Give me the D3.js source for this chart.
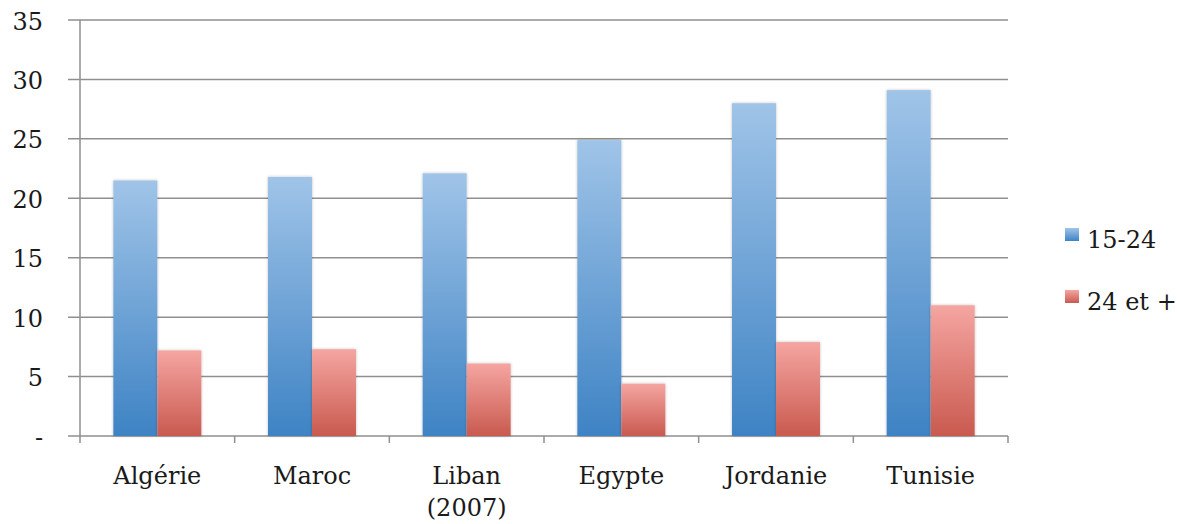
<!DOCTYPE html>
<html>
<head>
<meta charset="utf-8">
<script src="https://cdn.jsdelivr.net/npm/d3@7/dist/d3.min.js"></script>
<style>
  html, body { margin: 0; padding: 0; background: #fff; }
  svg text { font-family: "DejaVu Serif", serif; fill: #1a1a1a; }
</style>
</head>
<body>
<svg id="chart" width="1177" height="524"></svg>
<script>
// Pays (Liban : données 2007)
const categories = ["Algérie", "Maroc", "Liban\n(2007)", "Egypte", "Jordanie", "Tunisie"];
const seriesNames = ["15-24", "24 et +"];
const values1524 = [21.5, 21.8, 22.1, 24.9, 28.0, 29.1];
const values24plus = [7.2, 7.3, 6.1, 4.4, 7.9, 11.0];
const yTicks = [0, 5, 10, 15, 20, 25, 30, 35];
const yTickLabels = ["-", "5", "10", "15", "20", "25", "30", "35"];

const seriesValues = [values1524, values24plus];

const svg = d3.select("#chart");
const plotLeft = 80, plotRight = 1008, plotTop = 20, plotBottom = 436;

const y = d3.scaleLinear().domain([0, 35]).range([plotBottom, plotTop]);
const x0 = d3.scaleBand().domain(categories).range([plotLeft, plotRight]).padding(0);
const x1 = d3.scaleBand().domain(seriesNames).range([0, x0.bandwidth()])
  .paddingInner(0).paddingOuter(0.758);

const defs = svg.append("defs");
const grads = [
  { id: "gBlue", top: "#a0c4e8", bottom: "#3e83c4" },
  { id: "gRed", top: "#f5a5a1", bottom: "#c95a4f" }
];
grads.forEach(g => {
  const lg = defs.append("linearGradient").attr("id", g.id)
    .attr("x1", 0).attr("y1", 0).attr("x2", 0).attr("y2", 1);
  lg.append("stop").attr("offset", "0%").attr("stop-color", g.top);
  lg.append("stop").attr("offset", "100%").attr("stop-color", g.bottom);
});
const shadow = defs.append("filter").attr("id", "soft")
  .attr("x", "-20%").attr("y", "-5%").attr("width", "140%").attr("height", "110%");
shadow.append("feGaussianBlur").attr("in", "SourceAlpha").attr("stdDeviation", 1.5).attr("result", "b");
shadow.append("feComponentTransfer").attr("in", "b").attr("result", "s")
  .append("feFuncA").attr("type", "linear").attr("slope", 0.25);
const merge = shadow.append("feMerge");
merge.append("feMergeNode").attr("in", "s");
merge.append("feMergeNode").attr("in", "SourceGraphic");

// Horizontal gridlines and y axis labels
svg.append("g").selectAll("line").data(yTicks).join("line")
  .attr("x1", plotLeft - 12).attr("x2", plotRight)
  .attr("y1", d => y(d)).attr("y2", d => y(d))
  .attr("stroke", "#8f8f8f").attr("stroke-width", 1.5);

svg.append("g").selectAll("text").data(yTicks).join("text")
  .attr("x", 43)
  .attr("y", d => y(d) + 3)
  .attr("text-anchor", "end")
  .attr("dominant-baseline", "middle")
  .attr("font-size", 24)
  .text((d, i) => yTickLabels[i]);

// Vertical axis line
svg.append("line").attr("x1", plotLeft).attr("x2", plotLeft)
  .attr("y1", plotTop).attr("y2", plotBottom + 7)
  .attr("stroke", "#8f8f8f").attr("stroke-width", 1.5);

// Category tick marks
const bounds = categories.map(c => x0(c)).concat([plotRight]);
svg.append("g").selectAll("line").data(bounds.slice(1)).join("line")
  .attr("x1", d => d).attr("x2", d => d)
  .attr("y1", plotBottom).attr("y2", plotBottom + 7)
  .attr("stroke", "#8f8f8f").attr("stroke-width", 1.5);

// Bars
const groups = svg.append("g").selectAll("g").data(categories).join("g")
  .attr("transform", c => `translate(${x0(c)},0)`);
groups.selectAll("rect")
  .data((c, ci) => seriesNames.map((s, si) => ({ s, si, v: seriesValues[si][ci] })))
  .join("rect")
  .attr("x", d => x1(d.s))
  .attr("width", x1.bandwidth())
  .attr("y", d => y(d.v))
  .attr("height", d => y(0) - y(d.v))
  .attr("fill", d => d.si === 0 ? "url(#gBlue)" : "url(#gRed)")
  .attr("filter", "url(#soft)");

// Category labels
const labels = svg.append("g").selectAll("text").data(categories).join("text")
  .attr("x", c => x0(c) + x0.bandwidth() / 2)
  .attr("y", 484)
  .attr("text-anchor", "middle")
  .attr("font-size", 24);
labels.selectAll("tspan").data(c => c.split("\n")).join("tspan")
  .attr("x", function () { return d3.select(this.parentNode).attr("x"); })
  .attr("dy", (d, i) => i === 0 ? 0 : 32)
  .text(d => d);

// Legend
const legend = svg.append("g").selectAll("g").data(seriesNames).join("g")
  .attr("transform", (d, i) => `translate(1065,${228 + i * 62})`);
legend.append("rect").attr("width", 14).attr("height", 13)
  .attr("fill", (d, i) => i === 0 ? "url(#gBlue)" : "url(#gRed)");
legend.append("text").attr("x", 22).attr("y", 20)
  .attr("font-size", 24).text(d => d);
</script>
</body>
</html>
